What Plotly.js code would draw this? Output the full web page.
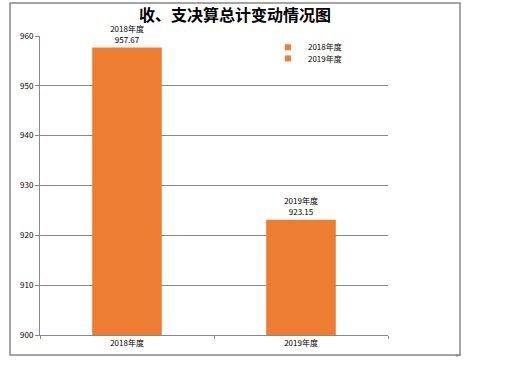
<!DOCTYPE html>
<html>
<head>
<meta charset="utf-8">
<script src="https://cdn.plot.ly/plotly-3.0.1.min.js"></script>
<style>html,body{margin:0;padding:0;background:#fff;}#chart{width:510px;height:368px;}</style>
</head>
<body>
<div id="chart"></div>
<script>
const categories = ["2018年度", "2019年度"];
const values = [957.67, 923.15];
const valueLabels = ["957.67", "923.15"];
const yTicks = [900, 910, 920, 930, 940, 950, 960];
const chartTitle = "收、支决算总计变动情况图";

const barColor = "#ED7D31";
const font = "'Noto Sans CJK SC', 'DejaVu Sans', sans-serif";
const legendIds = ["legend", "legend2"];

const barTraces = categories.map((c, i) => ({
  type: "bar",
  name: c,
  x: [c],
  y: [values[i]],
  marker: {color: barColor},
  text: [c + "<br>" + valueLabels[i]],
  textposition: "outside",
  textfont: {family: font, size: 8, color: "#000"},
  cliponaxis: false,
  showlegend: false,
  hoverinfo: "none"
}));

// legend-only entries (small square swatches, like the reference)
const legendTraces = categories.map((c, i) => ({
  type: "scatter",
  mode: "markers",
  name: c,
  x: [null],
  y: [null],
  marker: {color: barColor, symbol: "square", size: 6},
  legend: legendIds[i],
  showlegend: true,
  hoverinfo: "none"
}));

const legendStyle = {
  xanchor: "left", yanchor: "middle",
  font: {family: font, size: 8, color: "#000"},
  itemwidth: 30,
  bgcolor: "rgba(0,0,0,0)",
  borderwidth: 0
};

const layout = {
  width: 510, height: 368,
  margin: {l: 40, r: 122, t: 36, b: 33},
  paper_bgcolor: "#fff", plot_bgcolor: "#fff",
  barmode: "overlay",
  bargap: 0.6,
  showlegend: true,
  title: {
    text: "<b>" + chartTitle + "</b>",
    font: {family: font, size: 16, color: "#000"},
    xref: "container", x: 0.461, xanchor: "center",
    yref: "container", y: 0.957, yanchor: "middle"
  },
  legend: Object.assign({x: 0.655, y: 0.962}, legendStyle),
  legend2: Object.assign({x: 0.655, y: 0.925}, legendStyle),
  xaxis: {
    type: "category",
    showline: true, linecolor: "#888", linewidth: 1,
    ticks: "outside", tickson: "boundaries", ticklen: 3, tickcolor: "#888",
    tickfont: {family: font, size: 8, color: "#000"},
    showgrid: false, zeroline: false
  },
  yaxis: {
    range: [900, 960],
    tickvals: yTicks,
    showline: true, linecolor: "#888", linewidth: 1,
    ticks: "outside", ticklen: 4, tickcolor: "#888",
    tickfont: {family: font, size: 8, color: "#000"},
    showgrid: true, gridcolor: "#888", gridwidth: 1,
    zeroline: false
  },
  shapes: [{
    type: "rect", xref: "paper", yref: "paper",
    x0: -0.0862, x1: 1.2069, y0: -0.0669, y1: 1.1104,
    line: {color: "#888", width: 1.5}, fillcolor: "rgba(0,0,0,0)", layer: "below"
  }],
  annotations: [{
    xref: "paper", yref: "paper", x: 1.218, y: -0.09,
    text: "↵", showarrow: false, font: {size: 8, color: "#888"}
  }]
};

Plotly.newPlot("chart", barTraces.concat(legendTraces), layout, {displayModeBar: false, staticPlot: true});
</script>
</body>
</html>
